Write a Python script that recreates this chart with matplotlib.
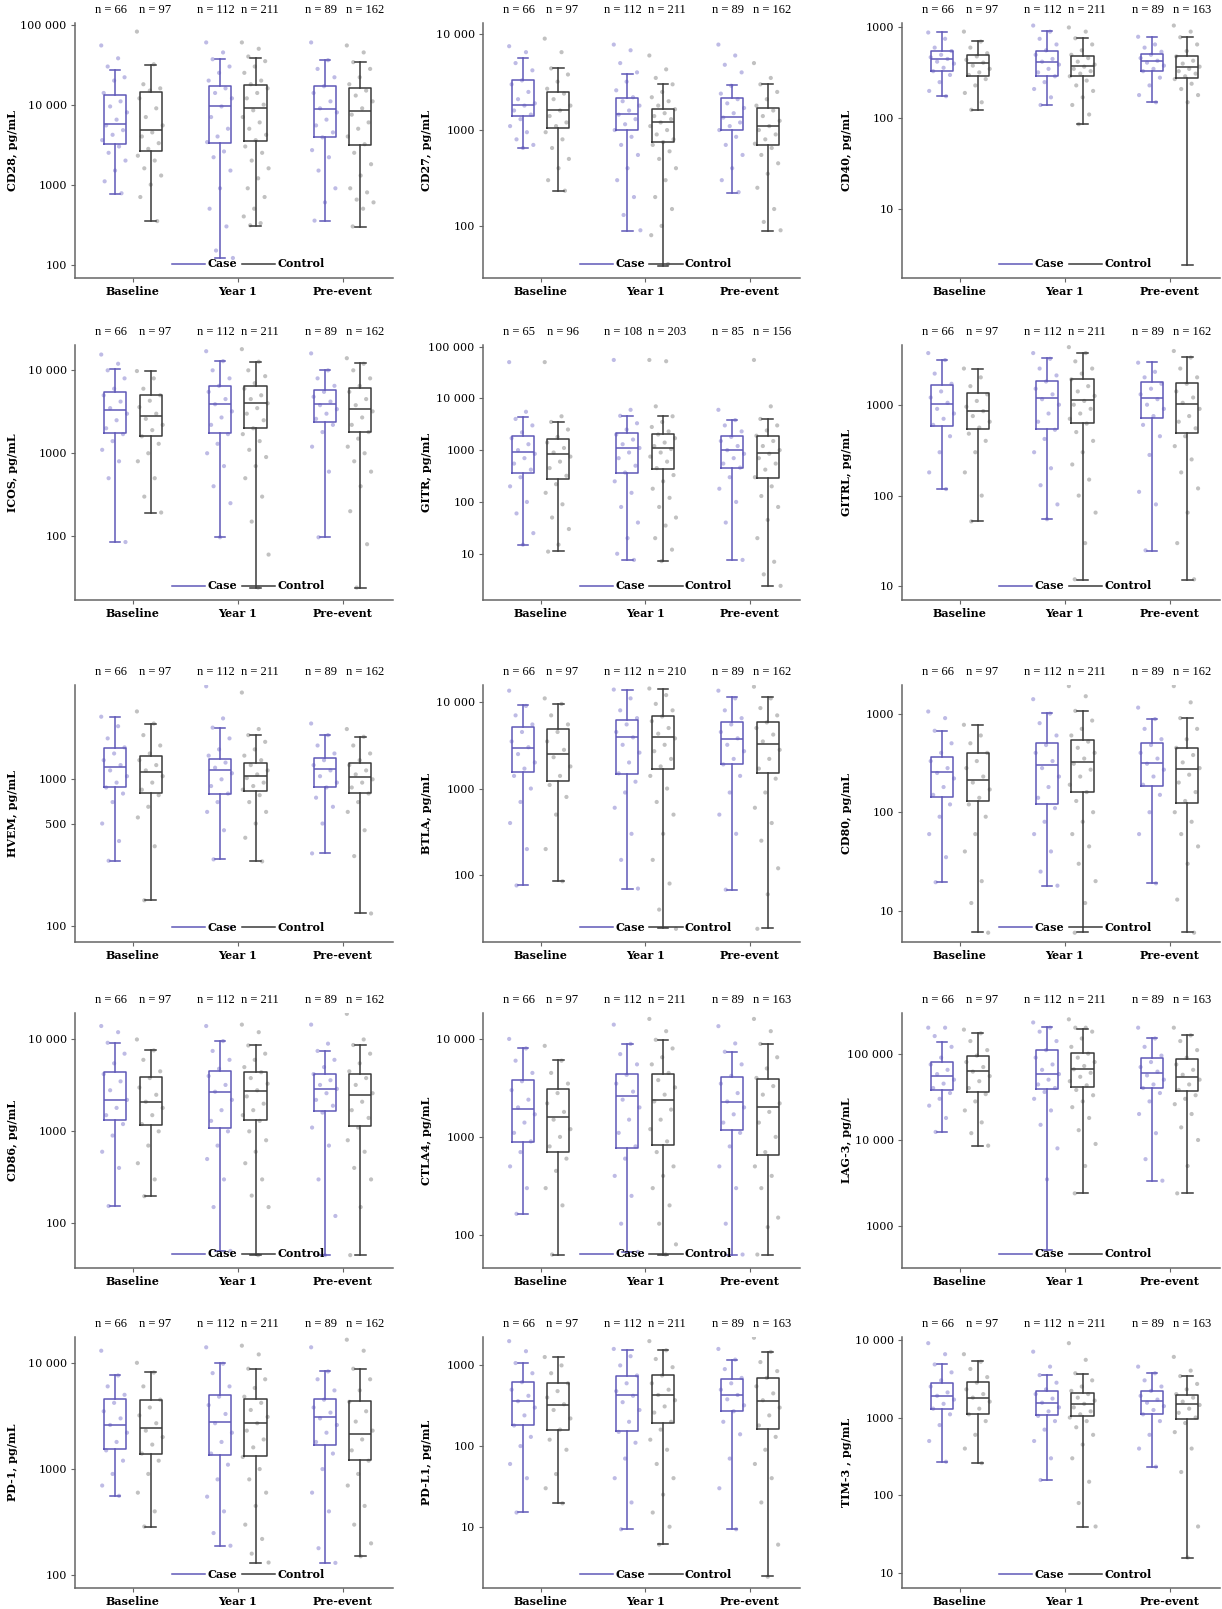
import numpy as np
import matplotlib
matplotlib.use("Agg")
import matplotlib.pyplot as plt
from matplotlib.lines import Line2D

# group order in every list: Baseline case, Baseline control, Year 1 case, Year 1 control, Pre-event case, Pre-event control
timepoints = ["Baseline", "Year 1", "Pre-event"]

# box = [lower whisker, Q1, median, Q3, upper whisker], pg/mL
CD28_box = [[772, 3250, 5790, 13300, 27400], [348, 2610, 4870, 14400, 31600],
            [121, 3320, 9530, 16900, 37300], [307, 3480, 9090, 17400, 38300],
            [355, 3910, 8910, 16900, 36500], [296, 3100, 8250, 16200, 34100]]
CD28_pts = [[55000, 38000, 30000, 22000, 20000, 14000, 11000, 9500, 8000, 6500, 5500, 4800, 4200, 3600, 3000, 2500, 2000, 1500, 1100, 780],
            [82000, 32000, 18000, 16000, 15000, 12000, 9000, 7000, 5500, 4500, 4000, 3300, 2800, 2300, 2000, 1600, 1300, 1000, 700, 350],
            [60000, 45000, 37000, 30000, 25000, 20000, 16000, 14000, 12000, 9500, 7000, 5000, 4000, 3400, 2600, 2200, 1500, 900, 500, 300, 150, 121],
            [60000, 50000, 40000, 35000, 30000, 25000, 20000, 18000, 16000, 14000, 12000, 10000, 8500, 7000, 6000, 5000, 4200, 3600, 3000, 2500, 2000, 1600, 1200, 900, 700, 500, 400, 330, 310],
            [60000, 36000, 28000, 22000, 17000, 14000, 11000, 9000, 8000, 6500, 5500, 4500, 3900, 2700, 2200, 1500, 900, 600, 355],
            [55000, 45000, 34000, 28000, 22000, 18000, 15000, 13000, 11000, 9000, 7500, 6000, 5000, 4000, 3200, 2500, 1800, 1300, 900, 800, 650, 600, 500, 300]]
CD28_n = [66, 97, 112, 211, 89, 162]

CD27_box = [[643, 1400, 1830, 3310, 5640], [233, 1060, 1620, 2480, 4440],
            [88, 1000, 1460, 2160, 3840], [38, 745, 1220, 1660, 3000],
            [223, 1010, 1360, 2160, 2930], [88, 703, 1090, 1690, 3000]]
CD27_pts = [[7500, 6500, 5000, 4200, 3300, 3000, 2500, 2100, 1900, 1800, 1600, 1450, 1300, 1100, 950, 800, 700, 650],
            [9000, 6500, 4400, 3800, 3200, 2700, 2400, 2100, 1800, 1600, 1400, 1200, 1100, 950, 800, 650, 500, 400, 300, 233],
            [7800, 6800, 5000, 4000, 3200, 2600, 2200, 2000, 1800, 1600, 1450, 1300, 1150, 1000, 850, 700, 550, 400, 300, 200, 130, 90],
            [6000, 4300, 3500, 3000, 2500, 2200, 2000, 1800, 1650, 1500, 1400, 1300, 1200, 1100, 1000, 900, 800, 750, 700, 600, 500, 400, 300, 200, 150, 100, 80, 40],
            [7800, 6000, 4800, 4000, 2900, 2400, 2100, 1900, 1700, 1500, 1350, 1200, 1100, 1000, 850, 700, 550, 400, 300, 225],
            [5000, 3500, 3000, 2500, 2100, 1800, 1600, 1400, 1250, 1100, 1000, 900, 800, 720, 650, 550, 450, 350, 250, 150, 110, 90]]
CD27_n = [66, 97, 112, 211, 89, 162]

CD40_box = [[175, 329, 452, 552, 886], [124, 294, 408, 502, 714],
            [139, 294, 415, 552, 918], [86, 294, 380, 484, 759],
            [150, 334, 425, 515, 792], [2.4, 277, 365, 484, 778]]
CD40_pts = [[880, 750, 600, 550, 500, 470, 450, 420, 400, 360, 330, 300, 250, 200, 175],
            [900, 700, 600, 520, 480, 440, 410, 380, 350, 320, 300, 270, 230, 190, 150, 124],
            [1050, 900, 750, 650, 560, 500, 450, 420, 390, 350, 320, 290, 250, 210, 170, 140],
            [1000, 900, 760, 650, 560, 500, 460, 420, 390, 370, 350, 330, 310, 290, 260, 230, 200, 170, 140, 110, 86],
            [790, 650, 600, 540, 500, 460, 430, 410, 380, 350, 330, 280, 230, 180, 150],
            [1050, 900, 780, 650, 550, 480, 430, 400, 370, 350, 330, 310, 290, 270, 240, 210, 180, 150]]
CD40_n = [66, 97, 112, 211, 89, 163]

ICOS_box = [[84.5, 1760, 3300, 5430, 10500], [193, 1630, 2840, 5030, 9810],
            [97, 1760, 3910, 6430, 12900], [24, 1990, 4020, 6430, 12700],
            [97, 2400, 3910, 5800, 10200], [24, 1790, 3430, 6080, 12100]]
ICOS_pts = [[15500, 12000, 10000, 8000, 6000, 5000, 4200, 3500, 3000, 2500, 2000, 1700, 1400, 1100, 800, 500, 85],
            [9800, 8000, 6000, 5000, 4300, 3600, 3000, 2600, 2200, 1900, 1600, 1300, 1000, 800, 500, 300, 193],
            [17000, 12900, 10000, 8000, 6500, 5500, 4500, 3900, 3200, 2700, 2200, 1700, 1300, 1000, 700, 400, 250, 97],
            [18000, 12700, 10000, 8500, 7000, 6000, 5000, 4500, 4000, 3500, 3000, 2500, 2000, 1700, 1400, 1100, 900, 700, 500, 300, 150, 60, 24],
            [16000, 10000, 8000, 6500, 5500, 4800, 4200, 3800, 3400, 3000, 2600, 2200, 1800, 1200, 600, 97],
            [14000, 12000, 10000, 8000, 6500, 5500, 4500, 3800, 3200, 2700, 2200, 1800, 1500, 1200, 1000, 800, 600, 400, 200, 80, 24]]
ICOS_n = [66, 97, 112, 211, 89, 162]

GITR_box = [[14.8, 366, 903, 1870, 4350], [11.1, 281, 828, 1620, 3500],
            [7.6, 366, 1110, 2160, 4620], [7.2, 423, 1110, 2040, 4490],
            [7.6, 462, 986, 1870, 3770], [2.36, 290, 877, 1870, 3990]]
GITR_pts = [[50000, 5500, 4000, 3000, 2200, 1700, 1300, 1000, 850, 700, 550, 420, 300, 200, 100, 60, 25, 15],
            [50000, 4500, 3500, 2500, 1800, 1400, 1100, 900, 750, 600, 450, 320, 220, 150, 90, 50, 30, 15, 11],
            [55000, 6000, 4600, 3300, 2500, 2000, 1600, 1300, 1100, 900, 700, 500, 370, 250, 150, 80, 40, 20, 10, 7.6],
            [55000, 52000, 7000, 4500, 3500, 2800, 2300, 2000, 1700, 1400, 1200, 1050, 900, 750, 600, 450, 330, 250, 180, 120, 80, 50, 35, 20, 12, 7.2],
            [6000, 3800, 3000, 2300, 1800, 1500, 1200, 1000, 850, 700, 550, 460, 300, 180, 100, 40, 7.6],
            [55000, 7000, 4000, 3000, 2400, 1900, 1500, 1200, 1000, 850, 700, 550, 420, 300, 200, 130, 80, 45, 20, 7, 4, 2.4]]
GITR_n = [65, 96, 108, 203, 85, 156]

GITRL_box = [[118, 584, 1030, 1640, 3110], [52, 546, 845, 1350, 2460],
             [54.6, 537, 1180, 1820, 3280], [11.8, 630, 1120, 1940, 3740],
             [24.8, 715, 1190, 1760, 2960], [11.8, 490, 1030, 1730, 3360]]
GITRL_pts = [[3700, 3100, 2200, 1700, 1400, 1200, 1050, 900, 800, 700, 600, 450, 300, 180, 118],
             [2500, 2000, 1600, 1300, 1100, 950, 850, 750, 650, 560, 480, 400, 300, 180, 100, 52],
             [3700, 3200, 2500, 2100, 1800, 1500, 1300, 1150, 1000, 800, 650, 530, 420, 300, 200, 130, 80, 55],
             [4300, 3700, 3000, 2500, 2200, 1900, 1600, 1400, 1250, 1100, 1000, 900, 800, 700, 620, 500, 400, 300, 220, 150, 100, 65, 30, 12],
             [2900, 2300, 2000, 1700, 1500, 1300, 1150, 1000, 900, 750, 600, 450, 280, 110, 80, 25],
             [3900, 3300, 2500, 2000, 1700, 1400, 1200, 1050, 900, 750, 650, 550, 450, 350, 250, 180, 120, 65, 30, 12]]
GITRL_n = [66, 97, 112, 211, 89, 162]

HVEM_box = [[279, 882, 1210, 1640, 2670], [150, 811, 1130, 1450, 2380],
            [285, 794, 1150, 1380, 2250], [276, 837, 1060, 1300, 1995],
            [313, 882, 1170, 1390, 1990], [122, 811, 1030, 1290, 1950]]
HVEM_pts = [[2670, 2300, 1900, 1650, 1500, 1350, 1250, 1150, 1050, 950, 880, 800, 700, 500, 380, 279],
            [2900, 2400, 2000, 1700, 1500, 1350, 1250, 1150, 1050, 950, 850, 780, 650, 550, 350, 150],
            [4300, 2600, 2250, 1900, 1600, 1450, 1300, 1200, 1100, 1000, 900, 800, 700, 600, 450, 285, 98],
            [3900, 2200, 2000, 1800, 1600, 1450, 1350, 1250, 1150, 1080, 1020, 950, 900, 850, 780, 700, 600, 500, 400, 276],
            [2400, 2000, 1700, 1500, 1350, 1250, 1150, 1050, 950, 880, 750, 650, 500, 313],
            [2200, 1950, 1700, 1500, 1350, 1250, 1150, 1080, 1000, 950, 880, 800, 700, 600, 450, 300, 122]]
HVEM_n = [66, 97, 112, 211, 89, 162]

BTLA_box = [[76, 1540, 2970, 5190, 9140], [85, 1230, 2480, 4830, 9560],
            [69.8, 1470, 3960, 6270, 13900], [24.2, 1700, 3890, 6860, 14300],
            [68, 1930, 3750, 5840, 11400], [24.2, 1500, 3250, 5840, 11400]]
BTLA_pts = [[13500, 9000, 7000, 5500, 4500, 3500, 3000, 2500, 2000, 1700, 1400, 1000, 700, 400, 200, 76],
            [11000, 9500, 7000, 5500, 4500, 3500, 2800, 2300, 1800, 1400, 1100, 800, 500, 200, 85],
            [13900, 11000, 8000, 6500, 5500, 4500, 3900, 3200, 2600, 2000, 1500, 1200, 900, 600, 300, 150, 70],
            [14300, 12000, 9500, 8000, 6800, 6000, 5000, 4300, 3800, 3200, 2700, 2200, 1800, 1400, 1000, 700, 500, 300, 150, 80, 40, 24],
            [13500, 11000, 8000, 6500, 5500, 4500, 3800, 3200, 2700, 2200, 1900, 1400, 900, 500, 300, 68],
            [15000, 11000, 8500, 7000, 5800, 5000, 4200, 3500, 2800, 2200, 1700, 1300, 900, 600, 400, 250, 120, 60, 24]]
BTLA_n = [66, 97, 112, 210, 89, 162]

CD80_box = [[19.5, 143, 255, 367, 673], [6.05, 129, 212, 398, 773],
            [17.9, 122, 303, 507, 1016], [6.05, 160, 323, 545, 1066],
            [19.1, 185, 318, 503, 885], [6.05, 123, 277, 446, 908]]
CD80_pts = [[1050, 900, 670, 500, 400, 330, 280, 250, 220, 180, 150, 120, 90, 60, 35, 19.5],
            [770, 600, 500, 400, 330, 280, 230, 200, 170, 140, 120, 90, 60, 40, 20, 12, 6],
            [1400, 1000, 800, 600, 480, 400, 330, 280, 230, 180, 140, 110, 80, 60, 40, 25, 18],
            [1900, 1500, 1066, 850, 700, 600, 520, 450, 400, 350, 310, 270, 230, 190, 160, 130, 100, 80, 60, 45, 30, 20, 12, 6],
            [1150, 880, 700, 550, 480, 400, 350, 310, 270, 230, 190, 150, 100, 60, 19],
            [1900, 1300, 900, 700, 550, 450, 380, 320, 280, 240, 200, 160, 130, 100, 80, 60, 45, 30, 13, 6]]
CD80_n = [66, 97, 112, 211, 89, 162]

CD86_box = [[154, 1330, 2190, 4440, 9200], [197, 1160, 2070, 3920, 7600],
            [49.5, 1090, 2700, 4550, 9590], [44.7, 1330, 2760, 4440, 8610],
            [44.7, 1650, 2880, 4190, 7480], [44.7, 1130, 2480, 4190, 8690]]
CD86_pts = [[14000, 12000, 9200, 7000, 5500, 4200, 3500, 2800, 2200, 1800, 1500, 1200, 900, 600, 400, 154],
            [10000, 7600, 6000, 4500, 3800, 3000, 2500, 2100, 1800, 1500, 1200, 1000, 700, 450, 300, 197],
            [14000, 9600, 7500, 6000, 4800, 4000, 3200, 2700, 2200, 1700, 1300, 1000, 700, 500, 300, 150, 50],
            [14500, 12000, 8600, 7000, 6000, 5000, 4400, 3800, 3300, 2800, 2400, 2000, 1700, 1500, 1300, 1000, 800, 600, 450, 300, 200, 150, 45],
            [14500, 9000, 7500, 6000, 5000, 4200, 3600, 3200, 2900, 2600, 2200, 1900, 1600, 1100, 700, 300, 120, 45],
            [19000, 10000, 8700, 7000, 5500, 4500, 3800, 3200, 2600, 2100, 1700, 1400, 1100, 800, 600, 400, 300, 150, 45]]
CD86_n = [66, 97, 112, 211, 89, 162]

CTLA4_box = [[164, 896, 1910, 3790, 8070], [63, 701, 1600, 3110, 6080],
             [67, 763, 2630, 4380, 8920], [63, 836, 2380, 4380, 9780],
             [63, 1180, 2250, 4090, 7360], [63, 650, 2010, 3940, 8920]]
CTLA4_pts = [[10000, 8000, 6000, 4500, 3700, 3000, 2400, 2000, 1700, 1400, 1100, 900, 700, 500, 300, 164],
             [8500, 6000, 4500, 3500, 2800, 2200, 1800, 1500, 1200, 1000, 800, 600, 450, 300, 200, 63],
             [14000, 8900, 7000, 5500, 4300, 3500, 2900, 2400, 2000, 1500, 1100, 800, 600, 400, 250, 130, 67],
             [16000, 12000, 9800, 8000, 6500, 5500, 4500, 3800, 3200, 2700, 2300, 1900, 1500, 1200, 900, 700, 500, 400, 300, 200, 130, 80, 63],
             [13500, 9000, 7400, 5500, 4200, 3500, 2800, 2300, 2000, 1700, 1400, 1100, 800, 500, 300, 130, 63],
             [16000, 12000, 8900, 6500, 5000, 4000, 3300, 2700, 2200, 1800, 1400, 1000, 700, 500, 400, 300, 150, 120, 63]]
CTLA4_n = [66, 97, 112, 211, 89, 163]

LAG3_box = [[12400, 38300, 55600, 80000, 136000], [8590, 36300, 63500, 94800, 172000],
            [527, 39000, 58100, 111000, 202000], [2410, 41500, 66400, 102000, 195000],
            [3380, 40000, 59700, 89100, 152000], [2410, 36700, 53700, 86700, 163000]]
LAG3_pts = [[200000, 200000, 160000, 120000, 90000, 75000, 65000, 58000, 50000, 45000, 40000, 35000, 30000, 25000, 18000, 12400],
            [190000, 172000, 140000, 110000, 95000, 80000, 70000, 62000, 55000, 48000, 40000, 34000, 28000, 22000, 16000, 12000, 8600],
            [230000, 200000, 180000, 140000, 110000, 90000, 75000, 65000, 58000, 50000, 44000, 40000, 36000, 30000, 22000, 15000, 8000, 3500],
            [250000, 200000, 200000, 180000, 150000, 120000, 100000, 90000, 80000, 72000, 66000, 60000, 54000, 48000, 43000, 38000, 33000, 28000, 24000, 18000, 13000, 9000, 5000, 2410],
            [200000, 150000, 120000, 95000, 80000, 70000, 62000, 56000, 50000, 44000, 40000, 35000, 28000, 20000, 12000, 6000, 3380],
            [200000, 163000, 140000, 110000, 90000, 75000, 65000, 57000, 50000, 44000, 38000, 33000, 30000, 26000, 20000, 14000, 10000, 5000, 2410]]
LAG3_n = [66, 97, 112, 211, 89, 163]

PD1_box = [[560, 1550, 2600, 4530, 7660], [288, 1390, 2420, 4430, 8110],
           [190, 1360, 2750, 4960, 9860], [132, 1340, 2690, 4560, 8840],
           [131, 1700, 3090, 4530, 8350], [151, 1220, 2140, 4370, 8840]]
PD1_pts = [[13000, 7600, 6000, 5000, 4200, 3500, 3000, 2600, 2200, 1800, 1500, 1200, 900, 700, 560],
           [10000, 8100, 6000, 4500, 3800, 3200, 2700, 2300, 2000, 1700, 1400, 1200, 900, 600, 400, 288],
           [14000, 9800, 8000, 6000, 4800, 4000, 3300, 2700, 2200, 1800, 1400, 1100, 800, 550, 400, 250, 190],
           [14500, 12000, 8800, 7000, 5800, 4800, 4200, 3600, 3100, 2700, 2300, 1900, 1600, 1300, 1000, 800, 600, 450, 300, 220, 160, 132],
           [14000, 8300, 7000, 5500, 4500, 3800, 3400, 3000, 2600, 2200, 1800, 1400, 1000, 600, 400, 180, 131],
           [16500, 13000, 8800, 7000, 5500, 4300, 3500, 2800, 2300, 1900, 1500, 1200, 900, 700, 450, 300, 200, 151]]
PD1_n = [66, 97, 112, 211, 89, 162]

PDL1_box = [[15.2, 183, 357, 621, 1070], [19.5, 158, 327, 608, 1270],
            [9.27, 155, 424, 730, 1570], [6.03, 195, 424, 751, 1540],
            [9.27, 270, 424, 670, 1180], [2.43, 163, 360, 695, 1470]]
PDL1_pts = [[2000, 1500, 1070, 800, 620, 500, 420, 360, 300, 240, 180, 130, 100, 60, 40, 15],
            [1270, 1000, 800, 600, 480, 400, 330, 280, 220, 160, 120, 90, 45, 30, 19.5],
            [1600, 1300, 1000, 750, 600, 480, 420, 350, 280, 200, 150, 110, 70, 40, 20, 9.3],
            [2000, 1540, 1200, 950, 750, 600, 500, 430, 370, 310, 260, 200, 160, 120, 90, 60, 40, 25, 15, 10, 6],
            [1600, 1180, 900, 700, 600, 500, 430, 380, 320, 270, 200, 140, 70, 30, 9.3],
            [2200, 1470, 1100, 850, 700, 550, 450, 370, 300, 240, 180, 130, 90, 60, 40, 20, 6, 2.4]]
PDL1_n = [66, 97, 112, 211, 89, 163]

TIM3_box = [[271, 1300, 1900, 2760, 4850], [260, 1120, 1800, 2870, 5250],
            [158, 1090, 1540, 2160, 3480], [39.5, 1040, 1490, 2080, 3660],
            [234, 1110, 1610, 2160, 3700], [16, 962, 1480, 1960, 3450]]
TIM3_pts = [[9000, 6500, 4800, 3800, 3000, 2500, 2100, 1900, 1700, 1500, 1300, 1100, 800, 500, 271],
            [6500, 5200, 4200, 3300, 2800, 2300, 2000, 1800, 1600, 1300, 1100, 900, 600, 400, 260],
            [7000, 4500, 3500, 2800, 2300, 2000, 1750, 1550, 1350, 1200, 1050, 900, 700, 500, 300, 158],
            [9000, 5500, 3700, 3000, 2500, 2200, 2000, 1800, 1650, 1500, 1350, 1200, 1100, 1000, 900, 750, 600, 450, 300, 150, 80, 40],
            [4500, 3700, 3000, 2500, 2200, 1900, 1700, 1550, 1400, 1250, 1100, 900, 600, 400, 234],
            [6000, 4000, 3400, 2700, 2300, 2000, 1800, 1600, 1450, 1300, 1150, 1000, 850, 650, 400, 200, 40, 16]]
TIM3_n = [66, 97, 112, 211, 89, 163]

# (y label, boxes, points, n, y ticks, y limits)
panels = [
    ("CD28, pg/mL", CD28_box, CD28_pts, CD28_n, [100, 1000, 10000, 100000], (68, 105000)),
    ("CD27, pg/mL", CD27_box, CD27_pts, CD27_n, [100, 1000, 10000], (28.6, 13100)),
    ("CD40, pg/mL", CD40_box, CD40_pts, CD40_n, [10, 100, 1000], (1.74, 1120)),
    ("ICOS, pg/mL", ICOS_box, ICOS_pts, ICOS_n, [100, 1000, 10000], (17, 20200)),
    ("GITR, pg/mL", GITR_box, GITR_pts, GITR_n, [10, 100, 1000, 10000, 100000], (1.28, 107000)),
    ("GITRL, pg/mL", GITRL_box, GITRL_pts, GITRL_n, [10, 100, 1000], (7.1, 4540)),
    ("HVEM, pg/mL", HVEM_box, HVEM_pts, HVEM_n, [100, 500, 1000], (78, 4390)),
    ("BTLA, pg/mL", BTLA_box, BTLA_pts, BTLA_n, [100, 1000, 10000], (16.9, 15700)),
    ("CD80, pg/mL", CD80_box, CD80_pts, CD80_n, [10, 100, 1000], (4.83, 1950)),
    ("CD86, pg/mL", CD86_box, CD86_pts, CD86_n, [100, 1000, 10000], (32.6, 19400)),
    ("CTLA4, pg/mL", CTLA4_box, CTLA4_pts, CTLA4_n, [100, 1000, 10000], (45.9, 18400)),
    ("LAG-3, pg/mL", LAG3_box, LAG3_pts, LAG3_n, [1000, 10000, 100000], (329, 296000)),
    ("PD-1, pg/mL", PD1_box, PD1_pts, PD1_n, [100, 1000, 10000], (76, 17500)),
    ("PD-L1, pg/mL", PDL1_box, PDL1_pts, PDL1_n, [10, 100, 1000], (1.74, 2250)),
    ("TIM-3 , pg/mL", TIM3_box, TIM3_pts, TIM3_n, [10, 100, 1000, 10000], (6.5, 10800)),
]

case_c = "#5f58b8"
ctrl_c = "#3a3a3a"
case_dot = "#8a84d0"
ctrl_dot = "#8e8e8e"
FONT = "DejaVu Serif"
fs = 8

W, H = 1222, 1609
col_lr = [(75, 393), (483, 800), (902, 1220)]
row_tb = [(23, 278), (345, 600), (685, 942), (1013, 1268), (1337, 1588)]
ylab_off = [-57, -51, -50]

fig = plt.figure(figsize=(W / 100, H / 100), dpi=100)
plt.rcParams["font.family"] = FONT


def tick_fmt(v):
    v = int(v)
    if v >= 10000:
        return f"{v:,}".replace(",", " ")
    return str(v)


for k, (ylab, box, pts, nn, yticks, ylim) in enumerate(panels):
    r, c = divmod(k, 3)
    L, R = col_lr[c]
    T, B = row_tb[r]
    ax = fig.add_axes([L / W, 1 - B / H, (R - L) / W, (B - T) / H])
    ax.set_yscale("log")

    pos = []
    for i in range(3):
        pos += [i - 0.17, i + 0.17]

    # jittered points
    for j in range(6):
        v = np.array(pts[j], dtype=float)
        off = ((np.arange(len(v)) * 0.618034) % 1 - 0.5) * 0.26
        ax.scatter(pos[j] + off, v, s=9, color=case_dot if j % 2 == 0 else ctrl_dot,
                   alpha=0.55, edgecolors="none", zorder=1)

    for j0, col in [(0, case_c), (1, ctrl_c)]:
        stats = [dict(whislo=b[0], q1=b[1], med=b[2], q3=b[3], whishi=b[4], fliers=[])
                 for b in box[j0::2]]
        lp = dict(color=col, linewidth=1.1)
        ax.bxp(stats, positions=pos[j0::2], widths=0.21, showfliers=False,
               capwidths=0.1, boxprops=lp, whiskerprops=lp, capprops=lp,
               medianprops=lp, manage_ticks=False, zorder=2)

    ax.set_xlim(-0.55, 2.48)
    ax.set_ylim(*ylim)
    ax.set_yticks(yticks)
    ax.set_yticklabels([tick_fmt(t) for t in yticks], fontsize=fs)
    ax.yaxis.set_minor_locator(matplotlib.ticker.NullLocator())
    ax.set_xticks([0, 1, 2])
    ax.set_xticklabels(timepoints, fontsize=fs, fontweight="bold")
    ax.tick_params(length=3, width=0.8, color="#666666", pad=3)
    ax.set_ylabel(ylab, fontsize=fs, fontweight="bold")
    ax.yaxis.set_label_coords(ylab_off[c] / (R - L), 0.5)
    for s in ["top", "right"]:
        ax.spines[s].set_visible(False)
    for s in ["left", "bottom"]:
        ax.spines[s].set_color("#666666")
        ax.spines[s].set_linewidth(1.1)

    for j in range(6):
        xn = j // 2 + (-0.21 if j % 2 == 0 else 0.21)
        ax.annotate(f"n = {nn[j]}", xy=(xn, 1.0), xycoords=("data", "axes fraction"),
                    xytext=(0, 5), textcoords="offset points", ha="center", va="bottom",
                    fontsize=9, family="Liberation Serif")

    handles = [Line2D([], [], color=case_c, lw=1.1), Line2D([], [], color=ctrl_c, lw=1.1)]
    ax.legend(handles, ["Case", "Control"], loc="center", bbox_to_anchor=(0.545, 0.055),
              ncol=2, frameon=False, handlelength=3, handletextpad=0.2, columnspacing=0.4,
              borderaxespad=0, borderpad=0, prop=dict(family=FONT, weight="bold", size=fs))

fig.savefig("out.png", dpi=100, facecolor="white")
